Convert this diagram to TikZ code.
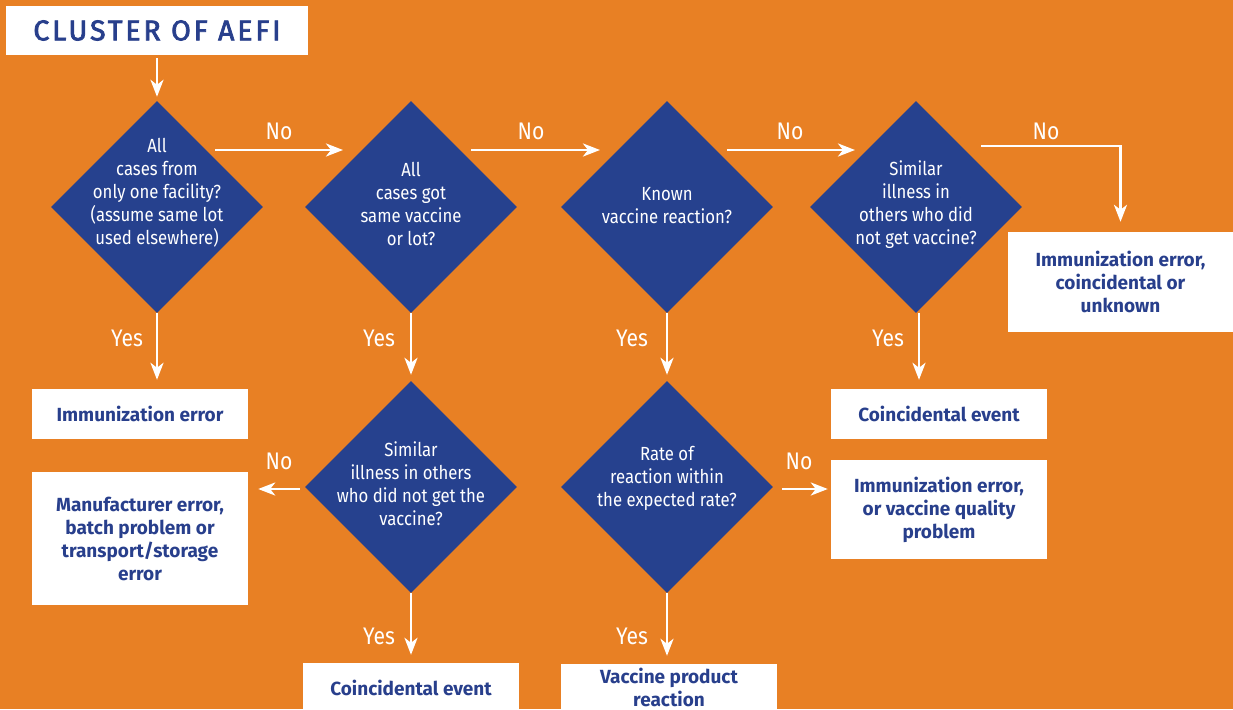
\documentclass[tikz,border=0pt]{standalone}
\usepackage{fontspec}
\setmainfont{Fira Sans}[FakeStretch=0.88]
\newfontfamily\lightfont{Fira Sans}[FakeStretch=0.88]
\newfontfamily\boxfont{Fira Sans}[FakeStretch=1.0]
\newfontfamily\titlefont{Fira Sans}[LetterSpace=10,FakeBold=2.6]
\usetikzlibrary{shapes.geometric,arrows.meta,calc}
\definecolor{bgorange}{HTML}{E88024}
\definecolor{diablue}{HTML}{26418E}
\definecolor{txtblue}{HTML}{283F8C}
\begin{document}
\begin{tikzpicture}[x=1pt,y=-1pt,
  dia/.style={diamond,fill=diablue,inner sep=0pt,minimum width=212pt,minimum height=212pt},
  dtext/.style={text=white,align=center,font=\lightfont\fontsize{19}{23}\selectfont},
  outbox/.style={rectangle,fill=white,inner sep=0pt,minimum width=216pt,text=txtblue,
    align=center,font=\boxfont\bfseries\fontsize{19}{23}\selectfont},
  lbl/.style={text=white,font=\lightfont\fontsize{24}{28}\selectfont},
  arr/.style={draw=white,line width=2.8pt,-{Stealth[length=17pt,width=13pt,inset=5pt]}},
  ]
\useasboundingbox (0,0) rectangle (1233,709);
\clip (0,0) rectangle (1233,709);
\fill[bgorange] (0,0) rectangle (1233,709);

% title
\node[rectangle,fill=white,minimum width=302pt,minimum height=49pt,inner sep=0pt,
  text=txtblue,font=\titlefont\fontsize{28.5}{31}\selectfont] (title) at (157,30.5) {CLUSTER OF AEFI};

% decision diamonds
\node[dia] (d1) at (157,207) {};
\node[dia] (d2) at (411,207) {};
\node[dia] (d3) at (667,207) {};
\node[dia] (d4) at (916,207) {};
\node[dia] (d5) at (411,487) {};
\node[dia] (d6) at (667,487) {};

\node[dtext] (t1) at (157,193) {All\\cases from\\only one facility?\\(assume same lot\\used elsewhere)};
\node[dtext] (t2) at (411,204) {All\\cases got\\same vaccine\\or lot?};
\node[dtext] (t3) at (667,206) {Known\\vaccine reaction?};
\node[dtext] (t4) at (916,205) {Similar\\illness in\\others who did\\not get vaccine?};
\node[dtext] (t5) at (411,484) {Similar\\illness in others\\who did not get the\\vaccine?};
\node[dtext] (t6) at (667,478) {Rate of\\reaction within\\the expected rate?};

% outcomes
\node[outbox,minimum height=50pt] (b1) at (140,414) {Immunization error};
\node[outbox,minimum height=133pt] (b2) at (140,538.5) {Manufacturer error,\\batch problem or\\transport/storage\\error};
\node[outbox,minimum height=50pt] (b3) at (411,688) {Coincidental event};
\node[outbox,minimum height=46pt] (b4) at (669,687) {Vaccine product\\reaction};
\node[outbox,minimum height=50pt] (b5) at (939,414) {Coincidental event};
\node[outbox,minimum height=99pt] (b6) at (939,509.5) {Immunization error,\\or vaccine quality\\problem};
\node[outbox,minimum width=225pt,minimum height=100pt] (b7) at (1120.5,282) {Immunization error,\\coincidental or\\unknown};

% connectors
\draw[arr,shorten <=3pt,shorten >=4pt] (title.south -| d1.north) -- (d1.north);

\draw[arr] ($(d1.center)+(58,-57)$) -- ($(d2.center)+(-68,-57)$);
\draw[arr] ($(d2.center)+(60,-57)$) -- ($(d3.center)+(-67,-57)$);
\draw[arr] ($(d3.center)+(60,-57)$) -- ($(d4.center)+(-61,-57)$);
\draw[arr,shorten >=10pt] ($(d4.center)+(65,-61)$) -| (b7.north);

\draw[arr,shorten >=9pt] (d1.south) -- (d1.south |- b1.north);
\draw[arr,shorten >=6pt] (d2.south) -- (d2.north |- d5.north);
\draw[arr,shorten >=6pt] (d3.south) -- (d3.north |- d6.north);
\draw[arr,shorten >=9pt] ($(d4.south)+(3,0)$) -- ($(d4.south |- b5.north)+(3,0)$);

\draw[arr,shorten <=5pt,shorten >=10pt] ($(d5.west)+(0,2)$) -- ($(d5.west -| b2.east)+(0,2)$);
\draw[arr,shorten <=9pt,shorten >=3pt] ($(d6.east)+(0,2)$) -- ($(d6.east -| b6.west)+(0,2)$);

\draw[arr,shorten >=8pt] (d5.south) -- (d5.south |- b3.north);
\draw[arr,shorten >=8pt] (d6.south) -- (d6.south |- b4.north);

% branch labels
\node[lbl] (n1) at (279,131) {No};
\node[lbl] (n2) at (531,131) {No};
\node[lbl] (n3) at (790,131) {No};
\node[lbl] (n4) at (1046,131) {No};
\node[lbl] (n5) at (279,461) {No};
\node[lbl] (n6) at (799,461) {No};
\node[lbl] (y1) at (127,338) {Yes};
\node[lbl] (y2) at (379,338) {Yes};
\node[lbl] (y3) at (632,338) {Yes};
\node[lbl] (y4) at (888,338) {Yes};
\node[lbl] (y5) at (379,636) {Yes};
\node[lbl] (y6) at (632,636) {Yes};
\end{tikzpicture}
\end{document}
